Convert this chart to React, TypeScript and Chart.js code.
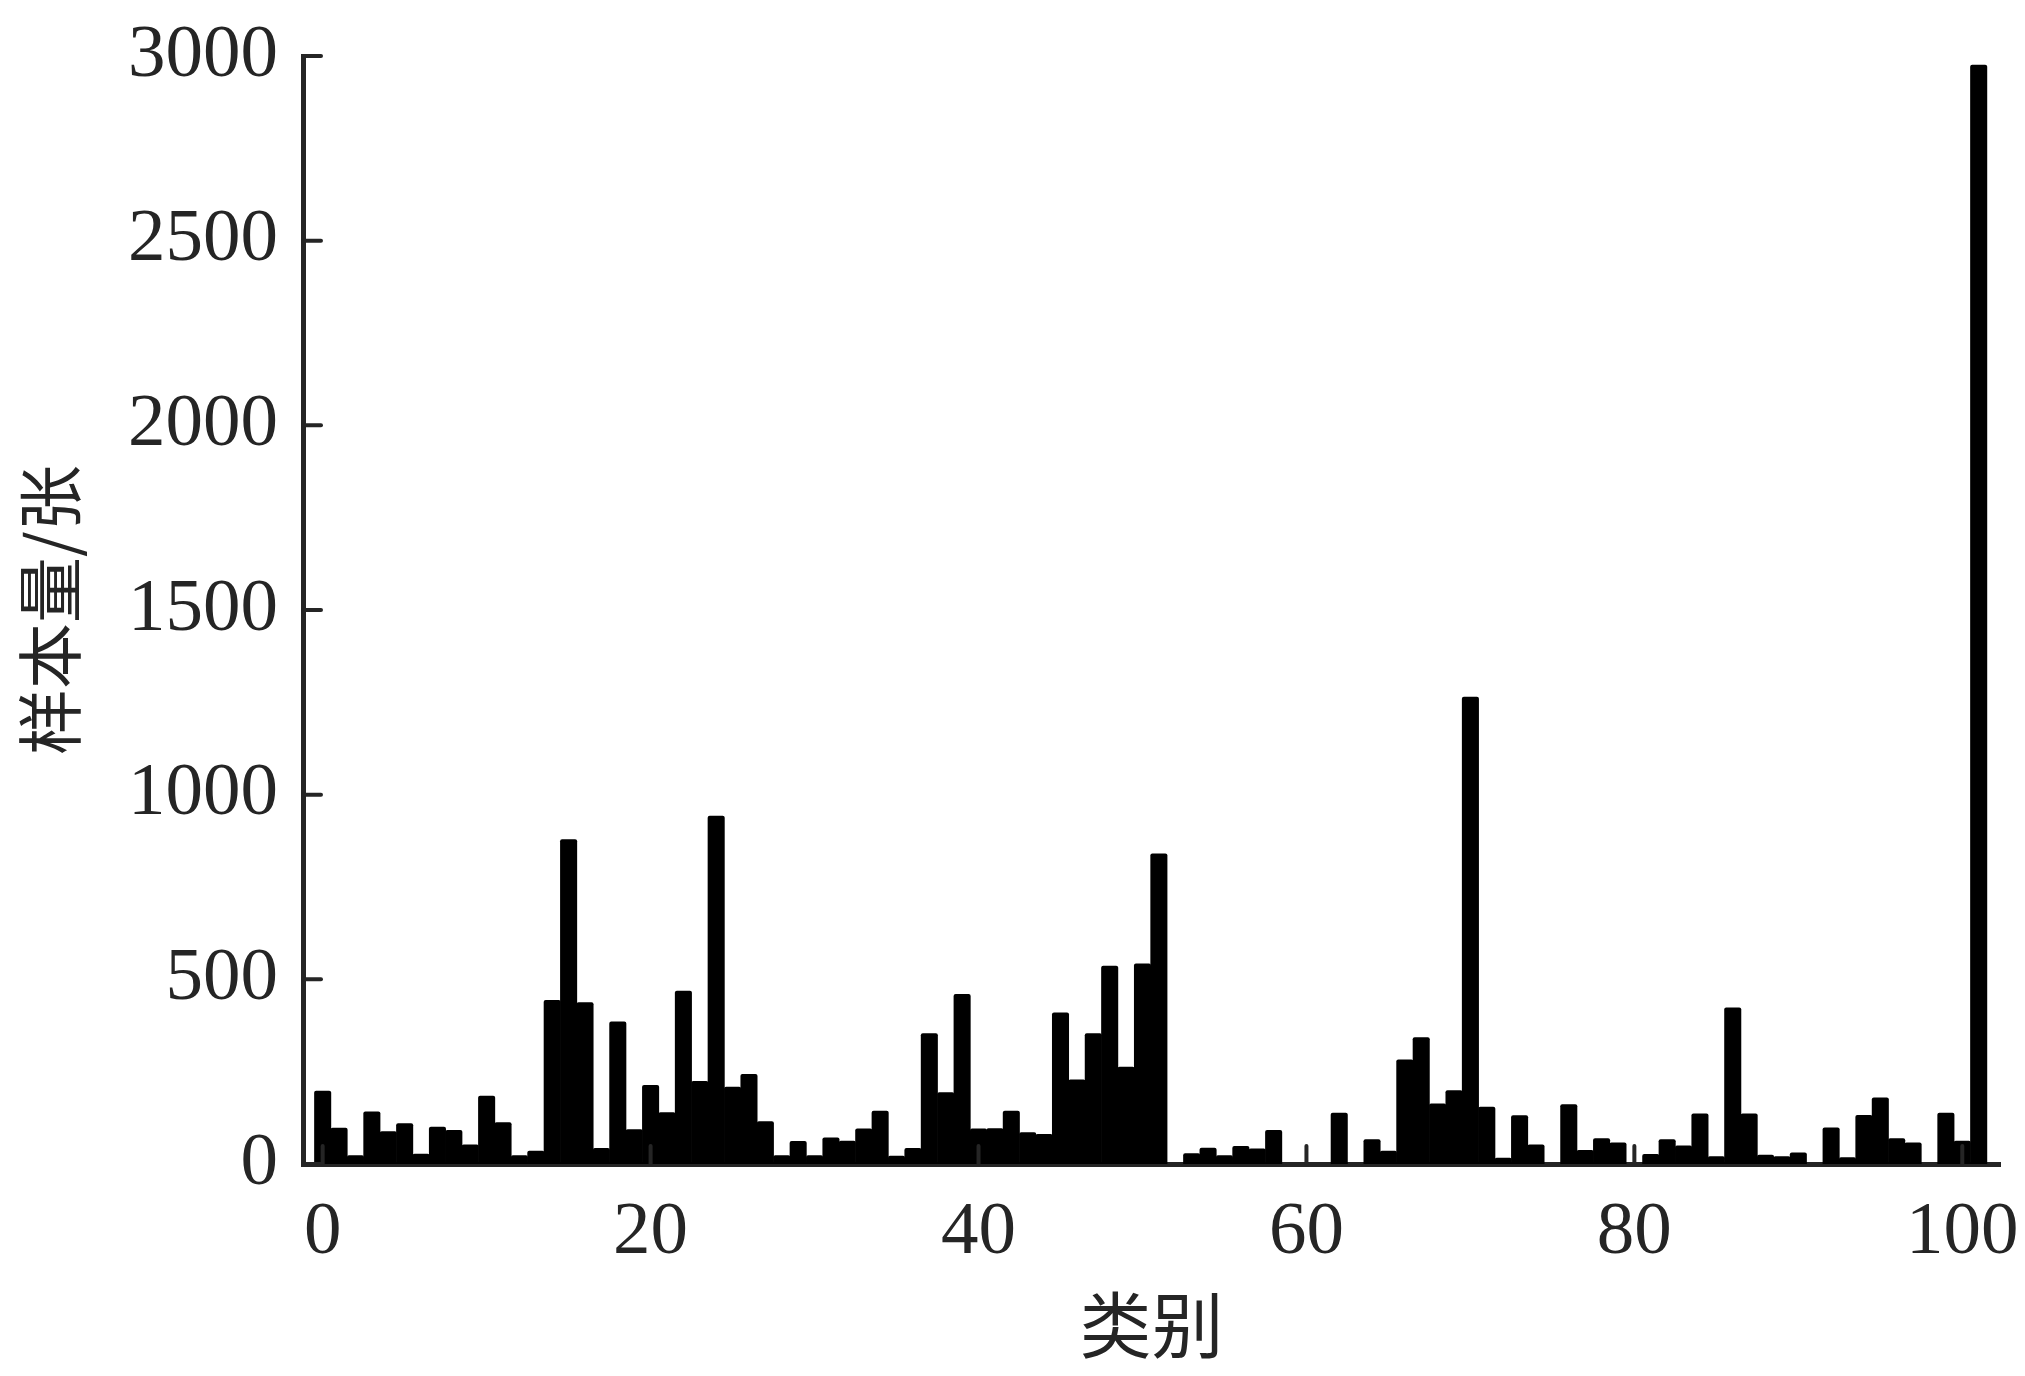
import React, { useEffect, useRef } from "react";
import { Chart, registerables } from "chart.js";

Chart.register(...registerables);

const categories: number[] = Array.from({ length: 102 }, (_, i) => i);

const sampleCounts: number[] = [
  198, 98, 24, 142, 89, 110, 28, 101, 92, 53,
  185, 113, 24, 36, 444, 879, 438, 43, 386, 94,
  214, 140, 469, 225, 943, 209, 244, 116, 24, 62,
  24, 72, 63, 96, 144, 22, 43, 354, 194, 460,
  96, 97, 144, 86, 81, 410, 229, 354, 537, 263,
  543, 841, 0, 29, 44, 24, 49, 42, 92, 0,
  0, 0, 139, 0, 67, 36, 283, 343, 164, 200,
  1265, 155, 17, 132, 53, 0, 162, 38, 70, 58,
  0, 27, 67, 50, 137, 21, 424, 137, 25, 21,
  31, 0, 99, 18, 133, 180, 70, 58, 0, 139,
  63, 2976,
];

const xTickValues: number[] = [0, 20, 40, 60, 80, 100];
const yTickValues: number[] = [0, 500, 1000, 1500, 2000, 2500, 3000];

const xTitle = "类别";
const yTitle = "样本量/张";

const AXIS_COLOR = "#252525";
const BAR_COLOR = "#000000";
const TICK_FONT = "'Liberation Serif', 'Times New Roman', serif";
const CJK_FONT = "'Noto Sans CJK SC', sans-serif";

const innerTicks = {
  id: "innerTicks",
  afterDraw(chart: any) {
    const { ctx } = chart;
    const xs = chart.scales.x;
    const ys = chart.scales.y;
    ctx.save();
    ctx.strokeStyle = AXIS_COLOR;
    ctx.lineWidth = 4;
    ctx.lineCap = "round";
    for (const v of yTickValues) {
      const py = ys.getPixelForValue(v);
      ctx.beginPath();
      ctx.moveTo(xs.left, py);
      ctx.lineTo(xs.left + 18, py);
      ctx.stroke();
    }
    for (const v of xTickValues) {
      const px = xs.getPixelForValue(v);
      ctx.beginPath();
      ctx.moveTo(px, ys.bottom);
      ctx.lineTo(px, ys.bottom - 18);
      ctx.stroke();
    }
    ctx.restore();
  },
};

export default function App() {
  const canvasRef = useRef<HTMLCanvasElement | null>(null);

  useEffect(() => {
    if (!canvasRef.current) return;
    const chart = new Chart(canvasRef.current, {
      type: "bar",
      data: {
        datasets: [
          {
            label: yTitle,
            data: categories.map((c, i) => ({ x: c, y: sampleCounts[i] })),
            backgroundColor: BAR_COLOR,
            borderWidth: 0,
            borderRadius: 2,
            borderSkipped: "bottom",
            barPercentage: 1.04,
            categoryPercentage: 1,
          },
        ],
      },
      options: {
        responsive: false,
        animation: false,
        layout: { padding: { top: 56, right: 25, left: 0, bottom: 0 } },
        plugins: {
          legend: { display: false },
          tooltip: { enabled: false },
        },
        scales: {
          x: {
            type: "linear",
            offset: false,
            min: -1.2,
            max: 102.3,
            grid: { display: false, drawTicks: false, offset: false },
            border: { display: true, color: AXIS_COLOR, width: 5 },
            afterBuildTicks: (scale: any) => {
              scale.ticks = xTickValues.map((v) => ({ value: v }));
            },
            afterFit: (scale: any) => {
              scale.height = 212;
              scale.paddingLeft = 0;
              scale.paddingRight = 0;
            },
            ticks: {
              autoSkip: false,
              maxRotation: 0,
              padding: 24,
              color: AXIS_COLOR,
              font: { family: TICK_FONT, size: 75 },
              callback: (v: any) => String(v),
            },
            title: {
              display: true,
              text: xTitle,
              color: AXIS_COLOR,
              font: { family: CJK_FONT, size: 72 },
              padding: { top: 0, bottom: 8 },
            },
          },
          y: {
            min: 0,
            max: 3000,
            grid: { display: false, drawTicks: false },
            border: { display: true, color: AXIS_COLOR, width: 5 },
            afterBuildTicks: (scale: any) => {
              scale.ticks = yTickValues.map((v) => ({ value: v }));
            },
            afterFit: (scale: any) => {
              scale.width = 303;
              scale.paddingTop = 0;
              scale.paddingBottom = 0;
            },
            ticks: {
              padding: 25,
              color: AXIS_COLOR,
              font: { family: TICK_FONT, size: 75 },
              callback: (v: any) => String(v),
            },
            title: {
              display: true,
              text: yTitle,
              color: AXIS_COLOR,
              font: { family: CJK_FONT, size: 66 },
              padding: { top: 10, bottom: 0 },
            },
          },
        },
      },
      plugins: [innerTicks],
    } as any);
    return () => chart.destroy();
  }, []);

  return (
    <div style={{ position: "fixed", left: 0, top: 0, width: 2025, height: 1376, background: "#fff" }}>
      <canvas ref={canvasRef} width={2025} height={1376} style={{ display: "block" }} />
    </div>
  );
}
